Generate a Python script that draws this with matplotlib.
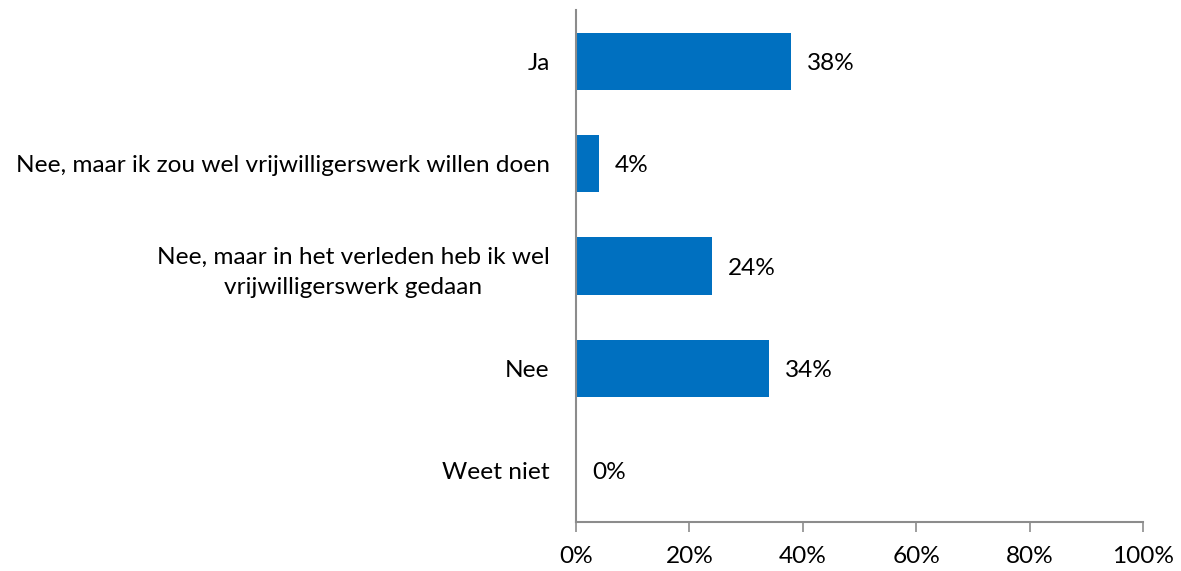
import matplotlib
matplotlib.use('Agg')
import matplotlib.pyplot as plt
from matplotlib.ticker import FuncFormatter

plt.rcParams['font.family'] = ['Lato', 'DejaVu Sans']

# Data
categories = [
    'Ja',
    'Nee, maar ik zou wel vrijwilligerswerk willen doen',
    'Nee, maar in het verleden heb ik wel\nvrijwilligerswerk gedaan',
    'Nee',
    'Weet niet',
]
values = [38, 4, 24, 34, 0]
x_ticks = [0, 20, 40, 60, 80, 100]

bar_color = '#0070C0'
axis_color = '#8C8C8C'
fs = 17.6

fig = plt.figure(figsize=(11.81, 5.71), dpi=100)
ax = fig.add_axes([576 / 1181, 1 - 522 / 571, (1143 - 576) / 1181, 512 / 571])

y_pos = list(range(len(categories)))
ax.barh(y_pos, values, height=0.56, color=bar_color)

for y, v in zip(y_pos, values):
    ax.text(v + 2.8, y + 0.02, f'{v}%', va='center', ha='left', fontsize=fs, color='black')

ax.set_xlim(0, 100)
ax.set_ylim(len(categories) - 0.5, -0.5)
ax.set_xticks(x_ticks)
ax.xaxis.set_major_formatter(FuncFormatter(lambda v, p: f'{v:.0f}%'))
ax.set_yticks(y_pos)
ax.set_yticklabels(categories, fontsize=fs, linespacing=1.55)
for lbl in ax.get_yticklabels():
    lbl.set_multialignment('center')
ax.tick_params(axis='y', length=0, pad=19)
ax.tick_params(axis='x', length=7, width=1.2, color=axis_color, labelsize=fs, pad=10)

for s in ['top', 'right']:
    ax.spines[s].set_visible(False)
for s in ['left', 'bottom']:
    ax.spines[s].set_color(axis_color)
    ax.spines[s].set_linewidth(1.5)

fig.savefig('out.png', dpi=100)
